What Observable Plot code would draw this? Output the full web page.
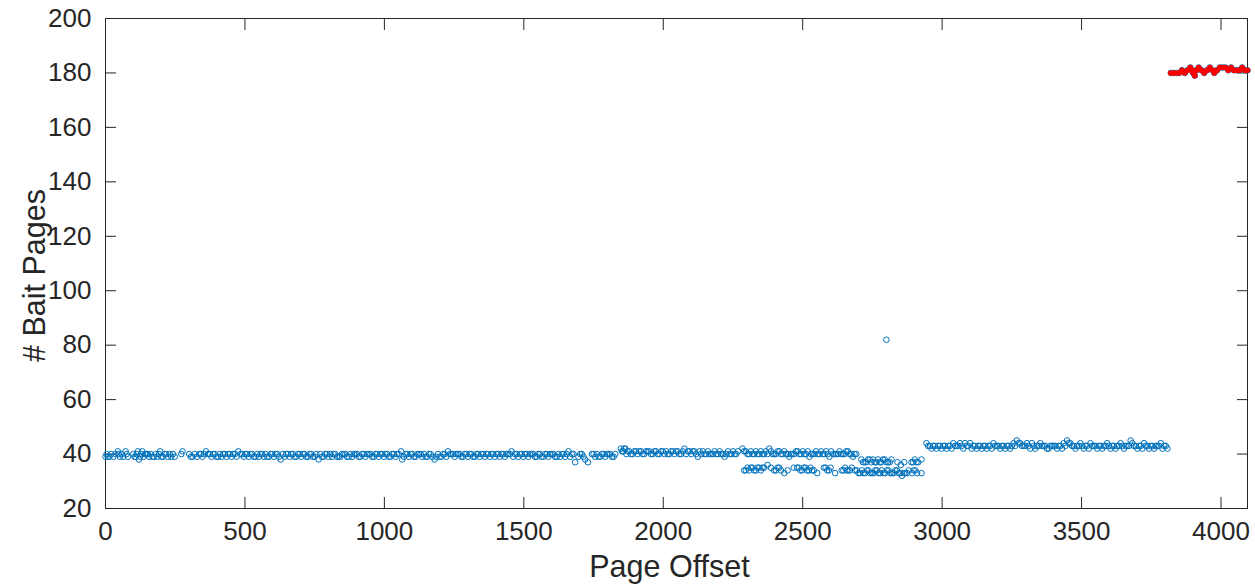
<!DOCTYPE html>
<html>
<head>
<meta charset="utf-8">
<script src="https://cdn.jsdelivr.net/npm/d3@7"></script>
<script src="https://cdn.jsdelivr.net/npm/@observablehq/plot@0.6"></script>
<style>
  html, body { margin: 0; padding: 0; background: #fff; }
  #chart svg { display: block; }
</style>
</head>
<body>
<div id="chart"></div>
<script>
// Page offset / # bait pages
const lowBand = [
  [0,39],[8,39],[20,40],[36,40],[44,41],[52,39],[64,39],[72,41],[80,39],
  [100,40],[108,39],[116,41],[120,38],[128,40],[136,39],[148,40],[156,39],[168,39],[180,40],[192,40],[200,39],[212,40],[224,39],[236,39],[248,39],
  [272,40],[276,41],
  [300,40],[312,39],[320,40],[336,40],[348,39],[360,41],[368,40],[380,39],[392,40],[404,39],[416,39],[428,40],[440,40],[452,39],[464,40],[476,41],[484,40],[496,39],
  [508,40],[520,40],[532,39],[544,40],[556,40],[568,39],[580,39],[592,40],[604,39],[616,40],[628,38],[636,40],[648,40],[660,39],[672,40],[684,39],[696,40],
  [708,40],[720,39],[732,40],[744,39],[756,40],[764,38],[776,39],[788,40],[800,39],[812,39],[824,40],[836,39],[848,40],[860,40],[872,39],[884,39],[896,40],
  [908,39],[920,40],[932,39],[944,40],[956,39],[968,40],[980,39],[992,40],[1004,40],[1016,39],[1028,40],[1040,39],[1052,40],[1060,41],[1064,38],[1076,40],
  [1088,39],[1100,40],[1112,39],[1124,40],[1136,39],[1148,39],[1160,40],[1172,39],[1180,38],[1192,40],[1204,39],[1216,40],[1228,41],[1240,40],[1252,39],
  [1264,40],[1276,39],[1288,40],[1300,39],[1312,40],[1324,39],[1336,40],[1348,40],[1360,39],[1372,40],[1384,40],[1396,39],[1408,40],[1420,40],[1432,39],
  [1444,40],[1456,41],[1468,40],[1480,39],[1492,40],[1504,40],[1516,39],[1528,40],[1540,39],[1552,40],[1564,39],[1576,40],[1588,39],[1600,40],[1612,39],
  [1624,40],[1636,40],[1648,39],[1660,41],[1672,40],[1684,37],[1696,39],[1708,40],[1720,38],[1730,37],[1744,40],[1756,39],[1768,39],[1780,40],[1792,39],
  [1804,40],[1816,39],[1828,40],
  [1848,42],[1856,41],[1864,42],[1872,41],[1884,40],[1896,41],[1908,40],[1920,41],[1932,40],[1944,41],[1956,40],[1968,41],[1980,40],[1992,41],[2004,40],
  [2016,40],[2028,41],[2040,40],[2052,41],[2064,40],[2076,42],[2088,41],[2100,40],[2112,41],[2124,39],[2136,40],[2148,40],[2160,41],[2172,40],[2184,41],
  [2196,40],[2208,40],[2220,39],[2232,41],[2244,40],[2256,40],[2268,41]
];
const lowBand2 = [
  [4,40],[14,39],[28,39],[48,40],[58,40],[76,40],
  [104,39],[112,40],[124,39],[132,41],[142,40],[152,40],[162,40],[174,39],[186,39],[196,41],[206,39],[218,40],[230,40],[242,40],
  [306,39],[328,39],[342,40],[354,40],[374,40],[386,40],[398,39],[410,40],[422,40],[434,39],[446,40],[458,40],[470,39],[490,40],
  [502,40],[514,39],[526,40],[538,39],[550,39],[562,40],[574,40],[586,39],[598,40],[610,40],[622,39],[642,39],[654,40],[666,40],[678,39],[690,40],
  [702,39],[714,40],[726,39],[738,40],[750,39],[770,40],[782,39],[794,40],[806,40],[818,40],[830,39],[842,39],[854,40],[866,39],[878,40],[890,40],
  [902,40],[914,39],[926,40],[938,40],[950,40],[962,39],[974,40],[986,40],[998,39],[1010,40],[1022,39],[1034,40],[1046,40],[1070,39],[1082,40],
  [1094,40],[1106,39],[1118,40],[1130,40],[1142,40],[1154,39],[1166,40],[1186,39],[1198,39],[1210,40],[1222,39],[1234,40],[1246,40],[1258,40],
  [1270,40],[1282,39],[1294,40],[1306,40],[1318,39],[1330,40],[1342,39],[1354,40],[1366,40],[1378,39],[1390,40],[1402,40],[1414,39],[1426,40],
  [1438,40],[1450,40],[1462,39],[1474,40],[1486,40],[1498,39],[1510,40],[1522,40],[1534,40],[1546,39],[1558,40],[1570,39],[1582,40],[1594,40],
  [1606,40],[1618,39],[1630,39],[1642,40],[1654,40],[1666,39],[1678,40],[1702,40],[1714,39],[1750,40],[1762,40],[1774,39],[1786,40],[1798,40],
  [1810,40],[1822,39],
  [1852,41],[1860,42],[1868,40],[1878,41],[1890,40],[1902,41],[1914,41],[1926,40],[1938,41],[1950,41],[1962,40],[1974,41],[1986,40],[1998,41],
  [2010,41],[2022,40],[2034,41],[2046,41],[2058,40],[2070,41],[2082,40],[2094,41],[2106,41],[2118,40],[2130,41],[2142,41],[2154,40],[2166,40],
  [2178,40],[2190,40],[2202,41],[2214,40],[2226,40],[2238,40],[2250,41],[2262,40]
];
const splitUpper = [
  [2284,42],[2296,41],[2308,40],[2320,40],[2332,41],[2344,40],[2356,40],[2368,41],[2380,42],[2392,40],[2404,40],[2416,41],[2428,40],[2440,40],[2452,39],
  [2464,40],[2476,41],[2488,40],[2500,41],[2512,40],[2524,39],[2536,40],[2548,41],[2560,40],[2572,40],[2584,41],[2596,39],[2608,40],[2620,40],[2632,41],
  [2644,40],[2656,41],[2668,40],[2680,39],[2692,40],
  [2710,38],[2722,37],[2734,38],[2746,37],[2758,37],[2770,38],[2782,37],[2794,38],[2806,37],[2818,38],[2840,37],[2852,36],[2864,37],[2890,37],[2902,38],
  [2914,37],[2926,38]
];
const splitUpper2 = [
  [2290,41],[2302,40],[2314,41],[2326,40],[2338,40],[2350,41],[2362,40],[2374,40],[2386,41],[2398,40],[2410,41],[2422,40],[2434,41],[2446,40],[2458,40],
  [2470,40],[2482,41],[2494,40],[2506,40],[2518,41],[2530,40],[2542,40],[2554,40],[2566,41],[2578,40],[2590,40],[2602,41],[2614,40],[2626,40],[2638,40],
  [2650,40],[2662,41],[2674,40],[2686,40],[2716,37],[2728,37],[2740,38],[2752,38],[2764,37],[2776,37],[2788,38],[2800,37],[2812,37],[2896,37],[2908,37]
];
const splitLower = [
  [2290,34],[2302,35],[2314,35],[2326,34],[2338,35],[2350,34],[2362,35],[2374,36],[2386,35],[2398,34],[2410,35],[2422,34],[2434,33],[2446,34],[2468,35],
  [2480,35],[2492,34],[2504,35],[2516,34],[2528,35],[2540,34],[2552,33],[2576,35],[2588,34],[2600,35],[2616,33],[2640,34],[2652,35],[2664,34],[2676,35],
  [2688,34],[2700,33],[2712,34],[2724,33],[2736,34],[2748,33],[2760,34],[2772,33],[2784,34],[2796,33],[2808,34],[2820,33],[2832,34],[2844,33],[2856,32],
  [2868,33],[2880,34],[2892,33],[2904,34],[2926,33]
];
const splitLower2 = [
  [2296,34],[2308,34],[2320,35],[2332,34],[2344,35],[2356,35],[2404,34],[2416,35],[2486,35],[2498,34],[2510,35],[2522,34],[2534,34],[2582,35],[2594,34],
  [2646,34],[2658,34],[2670,34],[2694,34],[2706,33],[2718,33],[2730,34],[2742,33],[2754,33],[2766,34],[2778,33],[2790,33],[2802,34],[2814,33],[2826,33],
  [2838,34],[2850,33],[2862,33],[2874,33],[2898,34],[2910,33]
];
const highBand = [
  [2944,44],[2956,43],[2968,43],[2980,42],[2992,43],[3004,43],[3016,42],[3028,43],[3040,44],[3052,43],[3064,44],[3076,42],[3088,43],[3100,44],[3112,43],
  [3124,42],[3136,43],[3148,43],[3160,42],[3172,43],[3184,44],[3196,43],[3208,42],[3220,43],[3232,43],[3244,42],[3256,44],[3268,45],[3280,44],[3292,43],
  [3304,44],[3316,42],[3328,43],[3340,43],[3352,44],[3364,43],[3376,42],[3388,43],[3400,43],[3412,42],[3424,43],[3436,44],[3448,45],[3460,44],[3472,43],
  [3484,43],[3496,44],[3508,42],[3520,43],[3532,44],[3544,43],[3556,42],[3568,43],[3580,43],[3592,44],[3604,42],[3616,43],[3628,43],[3640,44],[3652,42],
  [3664,43],[3676,45],[3688,43],[3700,42],[3712,43],[3724,44],[3736,43],[3748,43],[3760,42],[3772,43],[3784,44],[3796,43],[3808,42]
];
const highBand2 = [
  [2950,43],[2962,42],[2974,43],[2986,43],[2998,42],[3010,43],[3022,43],[3034,42],[3046,43],[3058,43],[3070,43],[3082,44],[3094,43],[3106,42],[3118,43],
  [3130,43],[3142,42],[3154,43],[3166,43],[3178,42],[3190,43],[3202,43],[3214,43],[3226,42],[3238,43],[3250,43],[3262,43],[3274,44],[3286,43],[3298,43],
  [3310,43],[3322,44],[3334,42],[3346,43],[3358,43],[3370,43],[3382,42],[3394,43],[3406,43],[3418,43],[3430,42],[3442,43],[3454,44],[3466,43],[3478,42],
  [3490,43],[3502,43],[3514,43],[3526,42],[3538,43],[3550,43],[3562,43],[3574,42],[3586,43],[3598,43],[3610,43],[3622,42],[3634,43],[3646,43],[3658,43],
  [3670,43],[3682,44],[3694,43],[3706,43],[3718,42],[3730,43],[3742,42],[3754,43],[3766,43],[3778,43],[3790,42],[3802,43]
];
const outlier = [[2800,82]];
const redPoints = [
  [3820,180],[3830,180],[3840,180],[3850,180],[3860,181],[3870,180],[3880,181],[3890,182],[3896,181],[3900,180],[3906,179],[3912,181],[3920,182],
  [3930,181],[3940,180],[3950,181],[3960,182],[3970,181],[3976,180],[3986,181],[3996,182],[4006,182],[4016,182],[4026,181],[4036,182],[4046,181],
  [4056,181],[4066,181],[4076,182],[4086,181],[4095,181]
];
const xTicks = [0, 500, 1000, 1500, 2000, 2500, 3000, 3500, 4000];
const yTicks = [20, 40, 60, 80, 100, 120, 140, 160, 180, 200];
const xLabel = ["Page Offset"];
const yLabel = ["# Bait Pages"];

const blue = [...lowBand, ...lowBand2, ...splitUpper, ...splitUpper2, ...splitLower, ...splitLower2,
  ...highBand, ...highBand2, ...outlier, ...redPoints];
const ink = "#262626";

const chart = Plot.plot({
  width: 1255,
  height: 585,
  marginLeft: 105,
  marginRight: 8,
  marginTop: 18,
  marginBottom: 77,
  style: {fontFamily: "'Liberation Sans', Arial, Helvetica, sans-serif", color: ink, background: "#fff"},
  x: {domain: [0, 4095]},
  y: {domain: [20, 200]},
  marks: [
    Plot.frame({stroke: ink, strokeWidth: 1}),
    Plot.axisX({ticks: xTicks, tickSize: -11, tickPadding: 24, fontSize: 26, tickFormat: d => String(d),
      label: null, stroke: ink, fill: ink}),
    Plot.axisX({anchor: "top", ticks: xTicks, tickSize: -11, tickFormat: () => "", label: null, stroke: ink}),
    Plot.axisY({ticks: yTicks, tickSize: -11, tickPadding: 25, fontSize: 26, tickFormat: d => String(d),
      label: null, stroke: ink, fill: ink}),
    Plot.axisY({anchor: "right", ticks: yTicks, tickSize: -11, tickFormat: () => "", label: null, stroke: ink}),
    Plot.text(xLabel, {text: d => d, frameAnchor: "bottom", textAnchor: "middle", lineAnchor: "middle",
      dy: 59, dx: -7, fontSize: 30.5, fill: ink}),
    Plot.text(yLabel, {text: d => d, frameAnchor: "left", textAnchor: "middle", lineAnchor: "middle",
      rotate: -90, dx: -70, dy: 12, fontSize: 30.5, fill: ink}),
    Plot.dot(blue, {x: d => d[0], y: d => d[1], r: 2.8, stroke: "#0072BD", strokeWidth: 1, fill: "none"}),
    Plot.dot(redPoints, {x: d => d[0], y: d => d[1], r: 2.8, fill: "#ff0000", stroke: "none"})
  ]
});
document.getElementById("chart").appendChild(chart);
</script>
</body>
</html>
